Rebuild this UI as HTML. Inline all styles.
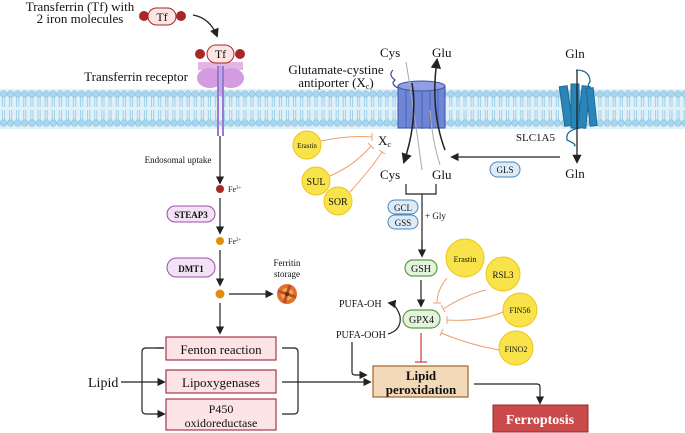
<!DOCTYPE html>
<html><head><meta charset="utf-8"><style>
html,body{margin:0;padding:0;background:#fff}
svg{display:block}
text{font-family:"Liberation Serif",serif;fill:#111}
</style></head><body>
<svg width="685" height="433" viewBox="0 0 685 433" xmlns="http://www.w3.org/2000/svg">
<defs>
<pattern id="mem" x="0" y="89" width="7.1" height="40" patternUnits="userSpaceOnUse">
<rect x="0" y="0" width="7.1" height="40" fill="#dff0f8"/>
<path d="M2.5,7 V18 M4.6,7 V18 M2.5,21 V32 M4.6,21 V32" stroke="#88c2e0" stroke-width="0.7" fill="none"/>
<circle cx="3.55" cy="5" r="3.3" fill="#a8d6ee" stroke="#7ebddd" stroke-width="0.5"/>
<circle cx="3.55" cy="34" r="3.3" fill="#a8d6ee" stroke="#7ebddd" stroke-width="0.5"/>
</pattern>
<marker id="ah" viewBox="0 0 10 10" refX="8" refY="5" markerWidth="7" markerHeight="7" orient="auto"><path d="M0,0 L10,5 L0,10 z" fill="#222"/></marker>
</defs>
<!-- membrane -->
<rect x="0" y="89" width="685" height="40" fill="url(#mem)"/>

<!-- Transferrin -->
<text x="80" y="11" font-size="13" text-anchor="middle">Transferrin (Tf) with</text>
<text x="80" y="23" font-size="13" text-anchor="middle">2 iron molecules</text>
<circle cx="144" cy="16" r="5" fill="#a8282a"/><circle cx="181" cy="16" r="5" fill="#a8282a"/>
<rect x="148" y="8" width="28" height="17" rx="8.5" fill="#fbe4e4" stroke="#a8282a"/>
<text x="162" y="21" font-size="12" text-anchor="middle" font-family="Liberation Sans">Tf</text>
<path d="M193,15 Q210,18 217,36" fill="none" stroke="#222" stroke-width="1.3" marker-end="url(#ah)"/>
<!-- receptor -->
<path d="M198,62 H243 V70 H198 z" fill="#e3b5e6"/>
<ellipse cx="210" cy="78" rx="13" ry="10" fill="#d39be0"/><ellipse cx="231" cy="78" rx="13" ry="10" fill="#d39be0"/>
<rect x="217" y="66" width="2" height="70" fill="#9a7ad0"/><rect x="222" y="66" width="2" height="70" fill="#9a7ad0"/>
<rect x="219" y="66" width="3" height="30" fill="#c0a8e6"/>
<circle cx="200" cy="54" r="5" fill="#a8282a"/><circle cx="240" cy="54" r="5" fill="#a8282a"/>
<rect x="207" y="45" width="27" height="18" rx="9" fill="#fbe4e4" stroke="#a8282a"/>
<text x="220.5" y="58" font-size="12" text-anchor="middle" font-family="Liberation Sans">Tf</text>
<text x="188" y="81" font-size="13" text-anchor="end">Transferrin receptor</text>

<!-- iron pathway -->
<line x1="220" y1="136" x2="220" y2="183" stroke="#222" stroke-width="1.2" marker-end="url(#ah)"/>
<text x="178" y="163" font-size="9" text-anchor="middle">Endosomal uptake</text>
<circle cx="220" cy="189" r="4" fill="#a8282a"/><text x="228" y="192" font-size="8">Fe<tspan font-size="5" dy="-3">3+</tspan></text>
<line x1="220" y1="198" x2="220" y2="233" stroke="#222" stroke-width="1.2" marker-end="url(#ah)"/>
<rect x="167" y="206" width="48" height="16" rx="8" fill="#f3e1f6" stroke="#9a4fa8"/>
<text x="191" y="218" font-size="9" text-anchor="middle" font-weight="bold">STEAP3</text>
<circle cx="220" cy="241" r="4" fill="#e08f0c"/><text x="228" y="244" font-size="8">Fe<tspan font-size="5" dy="-3">2+</tspan></text>
<line x1="220" y1="250" x2="220" y2="285" stroke="#222" stroke-width="1.2" marker-end="url(#ah)"/>
<rect x="167" y="258" width="48" height="19" rx="9.5" fill="#f3e1f6" stroke="#9a4fa8"/>
<text x="191" y="272" font-size="9" text-anchor="middle" font-weight="bold">DMT1</text>
<circle cx="220" cy="294" r="4.5" fill="#e08f0c"/>
<line x1="229" y1="294" x2="272" y2="294" stroke="#222" stroke-width="1.2" marker-end="url(#ah)"/>
<text x="287" y="266" font-size="9" text-anchor="middle">Ferritin</text>
<text x="287" y="277" font-size="9" text-anchor="middle">storage</text>
<g transform="translate(287,294)"><circle r="10" fill="#e0702a"/><circle r="6" fill="#e8b34a"/><path d="M-9,-3 L9,3 M-3,9 L3,-9" stroke="#c04a30" stroke-width="3"/><circle r="2" fill="#6a2a10"/></g>
<line x1="220" y1="303" x2="220" y2="333" stroke="#222" stroke-width="1.2" marker-end="url(#ah)"/>

<!-- boxes -->
<g fill="#fbe3e6" stroke="#a83548" stroke-width="1.2">
<rect x="166" y="337" width="110" height="23"/><rect x="166" y="370" width="110" height="23"/><rect x="166" y="399" width="110" height="31"/></g>
<text x="221" y="354" font-size="13" text-anchor="middle">Fenton reaction</text>
<text x="221" y="387" font-size="13" text-anchor="middle">Lipoxygenases</text>
<text x="221" y="413" font-size="12" text-anchor="middle">P450</text>
<text x="221" y="427" font-size="12" text-anchor="middle">oxidoreductase</text>
<text x="88" y="387" font-size="14">Lipid</text>
<g stroke="#222" stroke-width="1.2" fill="none">
<line x1="121" y1="382" x2="164" y2="382" marker-end="url(#ah)"/>
<path d="M164,348 H146 Q142,348 142,352 V410 Q142,414 146,414 H164" />
<path d="M156,348 H164 M156,414 H164" marker-end="url(#ah)"/>
<path d="M282,348 H294 Q298,348 298,352 V410 Q298,414 294,414 H282"/>
<line x1="282" y1="382" x2="370" y2="382" marker-end="url(#ah)"/>
</g>
<!-- lipid peroxidation -->
<rect x="373" y="366" width="95" height="31" fill="#f2d9b8" stroke="#a0652e" stroke-width="1.2"/>
<text x="421" y="380" font-size="13" text-anchor="middle" font-weight="bold">Lipid</text>
<text x="421" y="394" font-size="13" text-anchor="middle" font-weight="bold">peroxidation</text>
<path d="M474,384 H537 Q540,384 540,387 V403" fill="none" stroke="#222" stroke-width="1.2" marker-end="url(#ah)"/>
<rect x="493" y="405" width="95" height="27" fill="#c94a4a" stroke="#9a2a2a"/>
<text x="540" y="424" font-size="14" text-anchor="middle" font-weight="bold" style="fill:#fff">Ferroptosis</text>

<!-- PUFA -->
<text x="336" y="338" font-size="10">PUFA-OOH</text>
<text x="339" y="307" font-size="10">PUFA-OH</text>
<path d="M388,334 Q402,330 400,316 Q396,304 389,303" fill="none" stroke="#222" stroke-width="1.2" marker-end="url(#ah)"/>
<path d="M352,342 V372 Q352,375 355,375 H366" fill="none" stroke="#222" stroke-width="1.2" marker-end="url(#ah)"/>

<!-- GPX4 / GSH -->
<rect x="403" y="310" width="37" height="18" rx="9" fill="#e4f3dc" stroke="#5a9a4b" stroke-width="1.2"/>
<text x="421.5" y="323" font-size="10" text-anchor="middle">GPX4</text>
<rect x="405" y="260" width="32" height="16" rx="8" fill="#e4f3dc" stroke="#5a9a4b" stroke-width="1.2"/>
<text x="421" y="272" font-size="10" text-anchor="middle">GSH</text>
<line x1="421" y1="280" x2="421" y2="306" stroke="#222" stroke-width="1.2" marker-end="url(#ah)"/>
<line x1="421" y1="333" x2="421" y2="362" stroke="#d9534f" stroke-width="1.4"/>
<line x1="415" y1="362" x2="427" y2="362" stroke="#d9534f" stroke-width="1.4"/>

<!-- Cys Glu lower -->
<text x="380" y="179" font-size="13">Cys</text><text x="432" y="179" font-size="13">Glu</text>
<path d="M406,184 V194 H436 V184 M422,194 V255" fill="none" stroke="#222" stroke-width="1.2"/>
<line x1="422" y1="240" x2="422" y2="256" stroke="#222" stroke-width="1.2" marker-end="url(#ah)"/>
<rect x="388" y="200" width="30" height="14" rx="7" fill="#dcebf7" stroke="#4a86b8"/>
<text x="403" y="211" font-size="9" text-anchor="middle">GCL</text>
<rect x="388" y="215" width="30" height="14" rx="7" fill="#dcebf7" stroke="#4a86b8"/>
<text x="403" y="226" font-size="9" text-anchor="middle">GSS</text>
<text x="425" y="219" font-size="9">+ Gly</text>

<!-- antiporter -->
<text x="380" y="57" font-size="13">Cys</text><text x="432" y="57" font-size="13">Glu</text>
<text x="336" y="74" font-size="13" text-anchor="middle">Glutamate-cystine</text>
<text x="336" y="87" font-size="13" text-anchor="middle">antiporter (X<tspan font-size="8" dy="2">c</tspan><tspan dy="-2">)</tspan></text>
<path d="M393,70 Q388,75 395,80 Q390,84 398,88" fill="none" stroke="#3a4a9a" stroke-width="1.2"/>
<rect x="398" y="86" width="47" height="42" fill="#6f86d6" stroke="#3e52a8"/>
<ellipse cx="421.5" cy="86" rx="23.5" ry="5" fill="#8ea0e2" stroke="#3e52a8"/>
<g stroke="#3e52a8" stroke-width="0.7"><line x1="406" y1="90" x2="406" y2="128"/><line x1="414" y1="91" x2="414" y2="129"/><line x1="422" y1="91" x2="422" y2="129"/><line x1="430" y1="91" x2="430" y2="129"/><line x1="438" y1="90" x2="438" y2="128"/></g>
<path d="M406,62 Q414,110 422,170" fill="none" stroke="#aaa" stroke-width="1"/>
<path d="M430,110 Q432,140 440,165" fill="none" stroke="#aaa" stroke-width="1"/>
<path d="M412,83 Q418,120 404,162" fill="none" stroke="#222" stroke-width="1.5" marker-end="url(#ah)"/>
<path d="M445,150 Q430,110 437,60" fill="none" stroke="#222" stroke-width="1.5" marker-end="url(#ah)"/>
<text x="378" y="145" font-size="13">X<tspan font-size="8" dy="2">c</tspan></text>

<!-- inhibitors -->
<g fill="#f8e44a" stroke="#f0c419">
<circle cx="307" cy="145" r="14"/><circle cx="316" cy="181" r="14"/><circle cx="338" cy="201" r="14"/>
<circle cx="465" cy="258" r="19"/><circle cx="503" cy="274" r="17"/><circle cx="520" cy="310" r="17"/><circle cx="516" cy="348" r="17"/></g>
<text x="307" y="148" font-size="7" text-anchor="middle">Erastin</text>
<text x="316" y="185" font-size="10" text-anchor="middle">SUL</text>
<text x="338" y="205" font-size="10" text-anchor="middle">SOR</text>
<text x="465" y="262" font-size="8" text-anchor="middle">Erastin</text>
<text x="503" y="278" font-size="9" text-anchor="middle">RSL3</text>
<text x="520" y="313" font-size="8" text-anchor="middle">FIN56</text>
<text x="516" y="352" font-size="8" text-anchor="middle">FINO2</text>
<g fill="none" stroke="#f0a070" stroke-width="1">
<path d="M321,141 Q350,135 372,137 M372,133 V141"/>
<path d="M330,176 Q355,165 371,146 M368,143 L374,149"/>
<path d="M350,192 Q370,170 382,152 M379,150 L385,154"/>
<path d="M447,278 Q437,290 437,303 M433,303 H441"/>
<path d="M486,290 Q465,295 443,309 M441,305 L445,312"/>
<path d="M503,312 Q480,322 447,320 M447,316 V324"/>
<path d="M499,350 Q470,345 441,333 M443,329 L440,336"/>
</g>

<!-- SLC1A5 -->
<text x="575" y="58" font-size="13" text-anchor="middle">Gln</text>
<text x="575" y="178" font-size="13" text-anchor="middle">Gln</text>
<path d="M576,70 Q590,70 590,82 Q586,86 592,92" fill="none" stroke="#1f6f9a" stroke-width="1.3"/>
<g fill="#2a86b8" stroke="#1c6a96"><rect x="562" y="86" width="8" height="40" transform="rotate(-8 566 106)"/><rect x="571" y="84" width="8" height="44"/><rect x="580" y="86" width="8" height="42" transform="rotate(6 584 106)"/><rect x="588" y="88" width="7" height="38" transform="rotate(-6 591 106)"/></g>
<path d="M580,128 Q565,130 567,140 Q578,145 574,146" fill="none" stroke="#1f6f9a" stroke-width="1.3"/>
<line x1="577" y1="70" x2="577" y2="162" stroke="#222" stroke-width="1.3" marker-end="url(#ah)"/>
<text x="555" y="141" font-size="11" text-anchor="end">SLC1A5</text>
<line x1="560" y1="157" x2="452" y2="157" stroke="#222" stroke-width="1.2" marker-end="url(#ah)"/>
<rect x="490" y="162" width="30" height="15" rx="7.5" fill="#dcebf7" stroke="#4a86b8"/>
<text x="505" y="173" font-size="9" text-anchor="middle">GLS</text>
</svg>
</body></html>
